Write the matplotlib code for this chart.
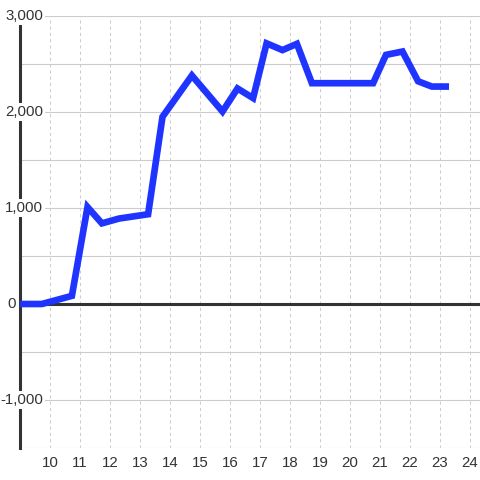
import matplotlib
matplotlib.use('Agg')
import matplotlib.pyplot as plt

plt.rcParams['font.family'] = ['Liberation Sans', 'DejaVu Sans']

# hour of day vs value
hours = [9.0, 9.73, 10.73, 11.25, 11.73, 12.3, 13.27, 13.75, 14.73, 15.75, 16.25,
         16.77, 17.22, 17.75, 18.23, 18.73, 20.77, 21.2, 21.75, 22.27, 22.73, 23.3]
values = [0, 0, 85, 1010, 840, 890, 935, 1950, 2380, 2005, 2245,
          2145, 2715, 2645, 2710, 2300, 2300, 2595, 2630, 2320, 2265, 2265]

x_ticks = list(range(10, 25))
y_labels = [3000, 2000, 1000, 0, -1000]

fig = plt.figure(figsize=(4.8, 4.8), dpi=100)
ax = fig.add_axes([20 / 480, 32 / 480, 460 / 480, 432 / 480])
ax.set_xlim(9, 9 + 460 / 30)
ax.set_ylim(-1500, 3000)

# grid
ax.set_yticks(range(-1500, 3001, 500))
ax.set_yticklabels([])
ax.set_xticks(x_ticks)
ax.set_xticklabels([str(t) for t in x_ticks])
ax.grid(axis='y', color='#cccccc', lw=0.8, zorder=0)
ax.grid(axis='x', color='#cccccc', lw=0.75, linestyle=(0, (3, 3)), zorder=0)
ax.tick_params(length=0, pad=5.5, labelsize=10.8, labelcolor='#333333')

for s in ['top', 'right', 'bottom']:
    ax.spines[s].set_visible(False)
ax.spines['left'].set_color('#333333')
ax.spines['left'].set_linewidth(2.2)

ax.axhline(0, color='#333333', lw=2.2, zorder=2)

ax.plot(hours, values, color='#1f35ff', lw=4.8, solid_joinstyle='miter',
        solid_capstyle='butt', zorder=7)

for v in y_labels:
    # the short "0" label sits left of the axis, the others overlap it
    xr = 9 - 4 / 30 if v == 0 else 9 + 23 / 30
    ax.text(xr, v, f'{v:,}', ha='right', va='center', fontsize=10.8,
            color='#333333', zorder=6, clip_on=False,
            bbox=dict(facecolor='white', edgecolor='none', pad=1.5))

fig.savefig('out.png', dpi=100)
